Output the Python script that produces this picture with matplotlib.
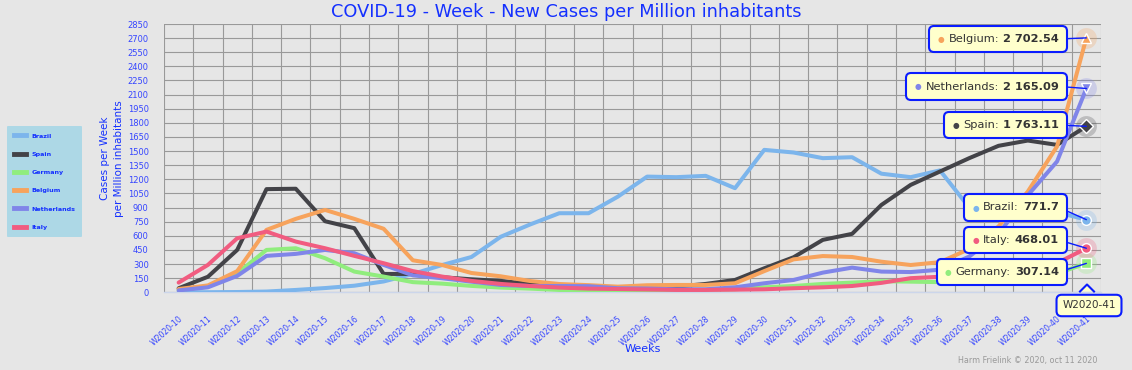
import matplotlib
matplotlib.use("Agg")
import matplotlib.pyplot as plt
from matplotlib.lines import Line2D
from matplotlib.patches import Polygon
from matplotlib.offsetbox import TextArea, HPacker, AnnotationBbox

# Weekly new cases per million inhabitants
weeks = ["W2020-%d" % w for w in range(10, 42)]

brazil = [0, 1, 3, 8, 25, 45, 70, 115, 195, 290, 375, 590, 720, 840, 840, 1016,
          1229, 1223, 1237, 1106, 1513, 1485, 1425, 1435, 1260, 1223, 1295, 900,
          870, 880, 850, 771.7]
spain = [43, 165, 450, 1096, 1100, 755, 681, 195, 195, 160, 138, 121, 89, 67, 53, 43,
         45, 60, 89, 131, 255, 372, 557, 621, 928, 1141, 1283, 1425, 1556, 1612,
         1566, 1763.11]
germany = [25, 60, 202, 450, 468, 362, 220, 167, 108, 92, 68, 50, 39, 25, 20, 18,
           22, 25, 28, 32, 53, 67, 89, 103, 118, 113, 108, 120, 135, 155, 200, 307.14]
belgium = [35, 73, 225, 663, 780, 875, 780, 675, 340, 290, 205, 170, 120, 88, 76, 60,
           75, 78, 78, 96, 225, 350, 385, 375, 325, 290, 320, 460, 700, 1070, 1550,
           2702.54]
netherlands = [20, 53, 174, 387, 408, 450, 415, 291, 180, 149, 113, 78, 67, 67, 65, 43,
               40, 32, 32, 53, 96, 131, 209, 262, 220, 215, 240, 380, 620, 1030, 1390,
               2165.09]
italy = [103, 291, 574, 645, 539, 468, 387, 309, 225, 167, 121, 89, 67, 50, 39, 35,
         30, 25, 25, 28, 32, 43, 53, 67, 100, 150, 165, 180, 210, 260, 310, 468.01]

names = ["Brazil", "Spain", "Germany", "Belgium", "Netherlands", "Italy"]
series = [brazil, spain, germany, belgium, netherlands, italy]
colors = ["#7cb5ec", "#434348", "#90ed7d", "#f7a35c", "#8085e9", "#f15c80"]
markers = ["o", "D", "s", "^", "v", "o"]
value_labels = ["771.7", "1 763.11", "307.14", "2 702.54", "2 165.09", "468.01"]

# tooltip boxes: vertical centre in pixels from top
tip_y = {"Belgium": 39, "Netherlands": 86.5, "Spain": 125, "Brazil": 207.5,
         "Italy": 240, "Germany": 272}

W, H = 1132, 370
bg = "#e6e6e6"
blue = "#1430ff"
tick_blue = "#3545ff"


def fx(px):
    return px / W


def fy(py):
    return 1 - py / H


fig = plt.figure(figsize=(W / 100, H / 100), dpi=100, facecolor=bg)
ax = fig.add_axes([fx(164), fy(292.3), 937 / W, 268.3 / H])
ax.set_facecolor(bg)

x = list(range(len(weeks)))
for i, (name, vals, c) in enumerate(zip(names, series, colors)):
    ax.plot(x, vals, color=c, lw=2.9, solid_joinstyle="round",
            solid_capstyle="round", zorder=3 + i)

# hover markers on the last week
for i, (vals, c, m) in enumerate(zip(series, colors, markers)):
    ax.plot(x[-1], vals[-1], "o", ms=15, color=c, alpha=0.25, mec="none",
            zorder=10, clip_on=False)
    ax.plot(x[-1], vals[-1], m, ms=7, mfc=c, mec="white", mew=1, zorder=11,
            clip_on=False)

# axes, grid
ax.set_xlim(-0.5, len(weeks) - 0.5)
ax.set_ylim(0, 2850)
ax.set_yticks(range(0, 2851, 150))
ax.set_xticks(x)
ax.set_xticklabels(weeks, rotation=42, ha="right", va="top",
                   rotation_mode="anchor")
ax.set_xticks([v - 0.5 for v in x] + [len(weeks) - 0.5], minor=True)
ax.grid(True, which="minor", axis="x", color="#999999", lw=0.8)
ax.grid(True, which="major", axis="y", color="#999999", lw=0.8)
ax.set_axisbelow(True)
ax.tick_params(axis="both", which="both", length=0)
ax.tick_params(axis="x", labelsize=5.6, labelcolor=tick_blue, pad=16)
ax.tick_params(axis="y", labelsize=6, labelcolor=tick_blue, pad=11)
for s in ["top", "right", "left"]:
    ax.spines[s].set_visible(False)
ax.spines["bottom"].set_color("#ccd6eb")
ax.spines["bottom"].set_linewidth(1)

ax.set_ylabel("Cases per Week\nper Million inhabitants", fontsize=7.5,
              color=blue, linespacing=1.5)
ax.yaxis.set_label_coords((124 - 164) / 937, 0.5)

fig.text(fx(566), fy(12), "COVID-19 - Week - New Cases per Million inhabitants",
         ha="center", va="center", fontsize=12.8, color=blue)
fig.text(fx(643), fy(349), "Weeks", ha="center", va="center", fontsize=8,
         color=blue)
fig.text(fx(1097), fy(361), "Harm Frielink \u00a9 2020, oct 11 2020", ha="right",
         va="center", fontsize=5.8, color="#999999")

# legend on the left
handles = [Line2D([], [], color=c, lw=3.5) for c in colors]
leg = fig.legend(handles, names, loc="upper left",
                 bbox_to_anchor=(fx(7), fy(126)), frameon=True, fancybox=True,
                 facecolor="#add8e6", edgecolor="none", framealpha=1,
                 prop={"weight": "bold", "size": 4.6}, labelcolor=blue,
                 handlelength=1.8, handletextpad=0.9, labelspacing=2.0,
                 borderpad=1.1, borderaxespad=0)

# tooltips for last week
for name, vals, c, lab in zip(names, series, colors, value_labels):
    parts = [TextArea("\u25cf", textprops=dict(color=c, size=5.5)),
             TextArea(name + ":", textprops=dict(color="#333333", size=8.2)),
             TextArea(lab, textprops=dict(color="#333333", size=8.2,
                                          weight="bold"))]
    pack = HPacker(children=parts, align="baseline", pad=0, sep=3)
    ab = AnnotationBbox(pack, (x[-1], vals[-1]), xybox=(1059, H - tip_y[name]),
                        xycoords="data", boxcoords="figure pixels",
                        box_alignment=(1, 0.5), pad=0.55,
                        bboxprops=dict(boxstyle="round,pad=0.6,rounding_size=0.35",
                                       fc="#ffffcc", ec="#0a1cff", lw=1.5),
                        arrowprops=dict(arrowstyle="-", color="#0a1cff", lw=1,
                                        relpos=(1, 0.5), shrinkA=0, shrinkB=0),
                        annotation_clip=False, zorder=20)
    ax.add_artist(ab)

# category tooltip at the bottom
fig.text(fx(1089), fy(305.5), "W2020-41", ha="center", va="center", fontsize=7.5,
         color="#333333", zorder=30,
         bbox=dict(boxstyle="round,pad=0.55,rounding_size=0.5", fc="#ffffcc",
                   ec="#0a1cff", lw=1.5))
tri = [(fx(1080), fy(291.5)), (fx(1087), fy(284.5)), (fx(1094), fy(291.5))]
fig.patches.append(Polygon(tri, closed=True, fc="#ffffcc", ec="none",
                           transform=fig.transFigure, zorder=31))
fig.lines.append(Line2D([p[0] for p in tri], [p[1] for p in tri],
                        color="#0a1cff", lw=1.5, transform=fig.transFigure,
                        zorder=32))

fig.savefig("out.png", dpi=100, facecolor=bg)
